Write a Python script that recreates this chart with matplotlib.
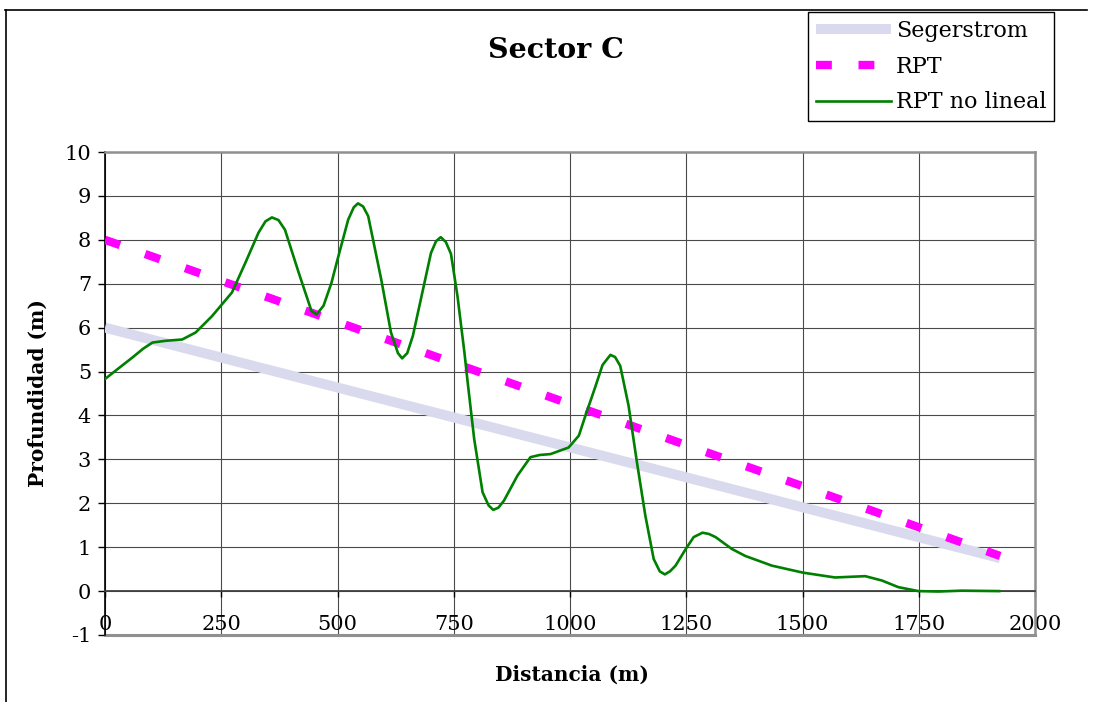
import matplotlib
matplotlib.use('Agg')
import matplotlib.pyplot as plt
from matplotlib.lines import Line2D

# ---------------- data ----------------
dist_seg = [0, 1925]
depth_seg = [6.0, 0.75]

dist_rpt = [0, 1925]
depth_rpt = [8.0, 0.8]

dist_nl = [0, 30, 59, 82, 102, 130, 166, 195, 230, 273, 302, 330, 345, 359,
           373, 387, 416, 444, 455, 470, 487, 500, 523, 535, 544, 555, 566,
           594, 615, 630, 639, 650, 662, 687, 701, 712, 722, 733, 744, 758,
           773, 780, 794, 812, 825, 835, 846, 858, 887, 915, 935, 958, 997,
           1019, 1033, 1055, 1070, 1087, 1097, 1108, 1126, 1144, 1162, 1180,
           1193, 1204, 1215, 1227, 1249, 1266, 1285, 1299, 1313, 1348, 1377,
           1434, 1501, 1570, 1635, 1671, 1706, 1749, 1792, 1842, 1923]
depth_nl = [4.83, 5.08, 5.32, 5.52, 5.66, 5.70, 5.73, 5.89, 6.26, 6.80, 7.48,
            8.16, 8.42, 8.51, 8.45, 8.23, 7.27, 6.38, 6.30, 6.50, 7.02, 7.55,
            8.46, 8.74, 8.83, 8.76, 8.54, 7.10, 5.89, 5.42, 5.30, 5.42, 5.81,
            7.02, 7.70, 7.97, 8.06, 7.95, 7.68, 6.72, 5.43, 4.75, 3.46, 2.25,
            1.95, 1.85, 1.90, 2.06, 2.63, 3.05, 3.10, 3.12, 3.27, 3.54, 3.99,
            4.67, 5.15, 5.38, 5.33, 5.13, 4.22, 2.93, 1.72, 0.73, 0.45, 0.38,
            0.45, 0.58, 0.96, 1.23, 1.33, 1.30, 1.23, 0.96, 0.80, 0.58, 0.42,
            0.31, 0.34, 0.24, 0.09, 0.0, -0.01, 0.01, 0.0]

xticks = [0, 250, 500, 750, 1000, 1250, 1500, 1750, 2000]
yticks = [-1, 0, 1, 2, 3, 4, 5, 6, 7, 8, 9, 10]

title = "Sector C"
xlabel = "Distancia (m)"
ylabel = "Profundidad (m)"
labels = ["Segerstrom", "RPT", "RPT no lineal"]

# ---------------- style ----------------
plt.rcParams['font.family'] = ['DejaVu Serif']
W, H = 1094, 702
fig = plt.figure(figsize=(W / 100, H / 100), dpi=100)
fig.patch.set_facecolor('white')

ax = fig.add_axes([105 / W, 1 - 635 / H, 930 / W, 483 / H])
ax.set_xlim(0, 2000)
ax.set_ylim(-1, 10)

grid_c = '#4a4a4a'
for xv in xticks:
    ax.axvline(xv, color=grid_c, lw=0.8, zorder=1)
for yv in yticks:
    ax.axhline(yv, color=grid_c, lw=0.8, zorder=1)

seg_c = '#dadaee'
rpt_c = '#ff00ff'
nl_c = '#008000'

seg_kw = dict(color=seg_c, lw=7.2, solid_capstyle='butt')
rpt_kw = dict(color=rpt_c, lw=6.0, dashes=(1.9, 3.2), dash_capstyle='butt')
nl_kw = dict(color=nl_c, lw=1.9, solid_joinstyle='round')

ax.plot(dist_seg, depth_seg, zorder=3, **seg_kw)
ax.plot(dist_rpt, depth_rpt, zorder=4, **rpt_kw)
ax.plot(dist_nl, depth_nl, zorder=5, **nl_kw)

# spines / borders
ax.spines['bottom'].set_position(('data', 0))
ax.spines['bottom'].set_color('#404040')
ax.spines['bottom'].set_linewidth(1.3)
ax.spines['left'].set_color('black')
ax.spines['left'].set_linewidth(1.2)
for s in ['top', 'right']:
    ax.spines[s].set_color('#909090')
    ax.spines[s].set_linewidth(1.8)
ax.axhline(-1, color='#909090', lw=2.2, clip_on=False, zorder=2)

ax.set_xticks(xticks)
ax.set_yticks(yticks)
ax.set_xticklabels([str(v) for v in xticks])
ax.set_yticklabels([str(v) for v in yticks])
ax.tick_params(axis='y', direction='out', length=5, width=1, color='black',
               labelsize=15, pad=5)
ax.tick_params(axis='x', direction='out', length=4, width=1, color='black',
               labelsize=15, pad=13)

fig.text(556 / W, 1 - 50 / H, title, ha='center', va='center',
         fontsize=20.5, fontweight='bold')
fig.text(572 / W, 1 - 675 / H, xlabel, ha='center', va='center',
         fontsize=14.5, fontweight='bold')
fig.text(38 / W, 1 - 393 / H, ylabel, ha='center', va='center',
         rotation=90, fontsize=14.5, fontweight='bold')

handles = [Line2D([], [], **seg_kw), Line2D([], [], **rpt_kw),
           Line2D([], [], **nl_kw)]
leg = fig.legend(handles, labels, loc='upper right',
                 bbox_to_anchor=(1054 / W, 1 - 12 / H),
                 bbox_transform=fig.transFigure, frameon=True, fancybox=False,
                 edgecolor='black', framealpha=1, borderaxespad=0,
                 handlelength=3.4, handletextpad=0.2, fontsize=16,
                 labelspacing=0.62, borderpad=0.35)
leg.get_frame().set_linewidth(1.0)

# outer chart border (top and left)
fig.add_artist(Line2D([5 / W, 1087 / W], [1 - 9.5 / H, 1 - 9.5 / H],
                      transform=fig.transFigure, color='black', lw=1.2))
fig.add_artist(Line2D([6 / W, 6 / W], [0, 1 - 9.5 / H],
                      transform=fig.transFigure, color='black', lw=1.2))

fig.savefig('out.png', dpi=100)
